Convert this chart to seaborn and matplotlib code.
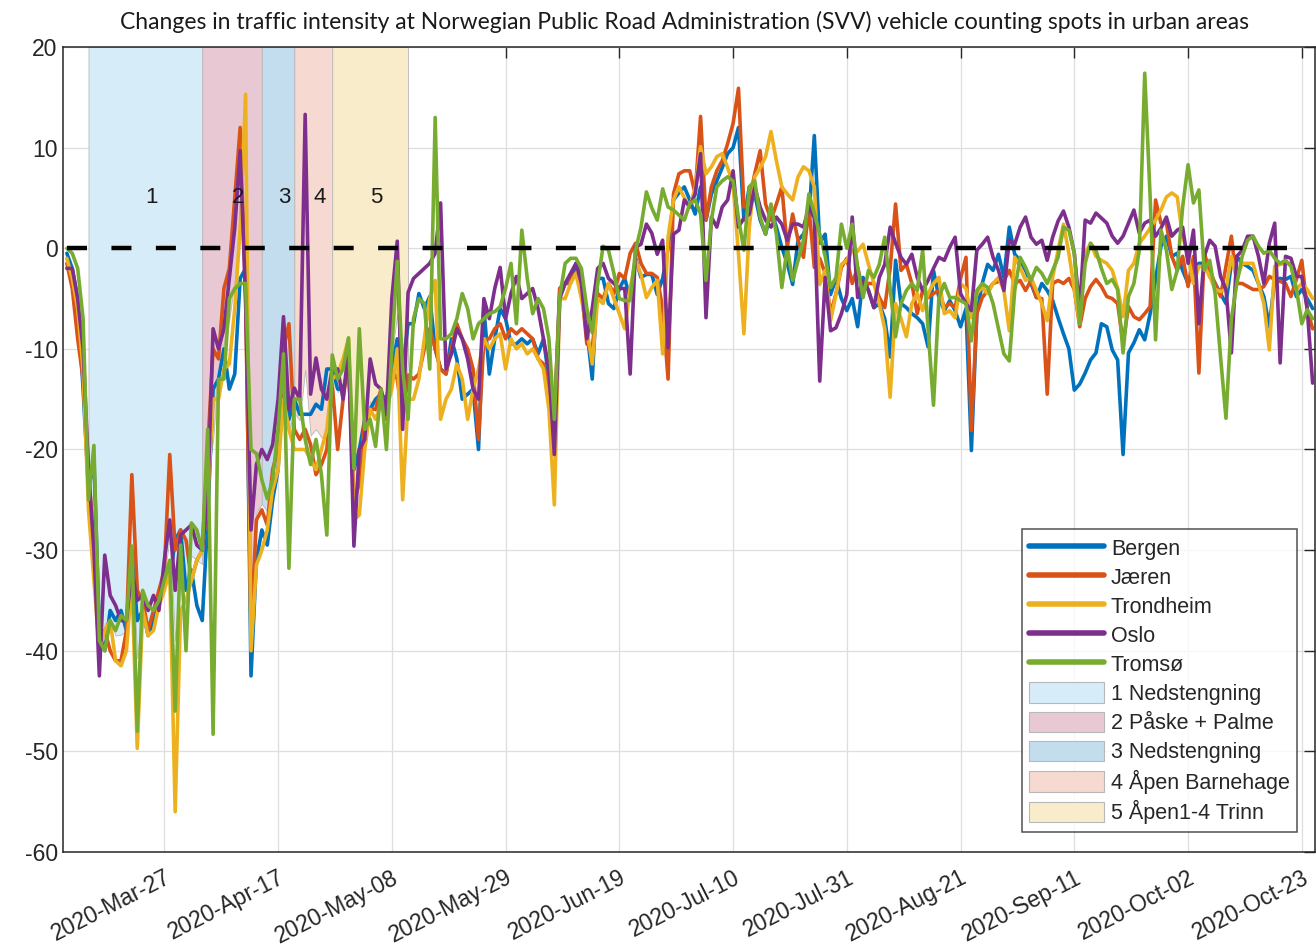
import pandas as pd
import matplotlib
matplotlib.use("Agg")
import matplotlib.pyplot as plt
from matplotlib.lines import Line2D
from matplotlib.patches import Patch
import seaborn as sns

# Daily change in traffic (%) from 2020-03-09
start_date = "2020-03-09"
cities = ["Bergen", "Jæren", "Trondheim", "Oslo", "Tromsø"]
city_colors = ["#0072BD", "#D95319", "#EDB120", "#7E2F8E", "#77AC30"]

bergen = [
    -0.5, -2, -5, -14, -24, -21, -38, -40, -36, -37,
    -36, -38, -30, -37, -36, -38.5, -37, -35, -33, -33,
    -29, -28, -34, -32, -35.5, -37, -27, -14, -13, -10,
    -14, -12.5, -3, -2, -42.5, -31, -28, -29.5, -25, -22,
    -12, -17, -15, -16.5, -16.5, -16.5, -15.5, -16, -12, -12,
    -14, -14, -12, -22, -20, -17, -16, -15, -14.5, -15,
    -12, -9, -12, -7.5, -7.5, -4.5, -6, -4.8, -10, -12,
    -12.5, -9, -11, -15, -14.5, -14, -20, -6, -12.5, -9,
    -6, -7, -9.5, -9.5, -9, -9.5, -9, -10.5, -9, -13,
    -18, -4, -3.5, -3.5, -1.5, -3, -8, -13, -3, -3,
    -5.5, -6, -4, -3, -5, -1, -2.9, -2.6, -2.6, -4.6,
    -3, 0, 4.8, 5.5, 6.1, 4.8, 3.4, 6.1, 2.8, 5.4,
    6.7, 8, 9.4, 10, 12, 2.8, 6.1, 5.4, 2.8, 1.4,
    3.8, 2.1, 0.1, -1.5, -3.6, 0.8, 1.4, 3, 11.2, 0.5,
    1.4, -4.6, -3, -5, -6.2, -5, -7.8, -2.9, -4.2, -5.9,
    -5.5, -7, -10.8, -1.2, -5.5, -5.9, -6.5, -6.9, -7.5, -9.8,
    -2.2, -4.9, -6.2, -5.2, -6.2, -7.8, -6, -20.1, -6.5, -3.5,
    -1.6, -2.2, -0.6, -2.9, 2.1, -0.6, -1.2, -2.2, -3.5, -4.9,
    -3.5, -4.2, -5.2, -6.9, -8.5, -10, -14.1, -13.5, -12.4, -11.1,
    -10.4, -7.5, -7.8, -10.1, -11.1, -20.5, -10.4, -9.4, -8.1, -9.1,
    -6.5, -3.1, 0.2, 1.2, -0.8, -0.5, -2.2, -3.5, -2.2, -1.5,
    -1.5, -2.8, -3.5, -4.5, -5.5, -1.5, -0.8, -1.5, -1.8, -2.2,
    -3.5, -4.8, -7.8, -3.1, -3, -3.1, -2.8, -4.8, -4.1, -5,
    -6,
]

jaeren = [
    -1.5, -4, -9, -13, -22, -30, -39, -38, -40, -41,
    -41, -38, -22.5, -34, -35, -38, -36, -34, -32, -20.5,
    -30, -28, -29, -33, -31, -30, -20, -10, -11, -4,
    -2, 5, 12, -5, -38, -27, -26, -27.5, -22, -20,
    -10, -7.5, -18, -19, -18, -19.5, -22.5, -21.5, -20, -13.5,
    -20, -15, -11, -25, -23.5, -17, -16, -16, -14, -17,
    -12, -13, -17, -12.6, -13, -12.5, -10, -8, -10, -12,
    -12.5, -10, -7.5, -9, -10, -12, -19, -9, -9, -8,
    -7.5, -9, -8, -8.5, -8, -8.5, -9, -11, -11.5, -14,
    -17, -4, -3.5, -3, -2.5, -4, -9.5, -10, -4.5, -5,
    -3.5, -4.5, -2.5, -3, -0.5, 0.5, -1.5, -2.5, -2.5, -2.9,
    -6, -13, 5.4, 7.4, 7.7, 7.7, 5.4, 13.1, 2.8, 6.1,
    7.7, 8.7, 10.4, 12.4, 15.9, 4.1, 4.8, 7.4, 9.7, 4.4,
    2.8, 4.4, 6.1, 0.1, 3.4, 0.8, -0.9, 4.1, -1.9, -1,
    -2.5, -6.5, -4.5, -1.9, -1, -3.5, -1.9, -4.2, -3.5, -3.5,
    -4.9, -5.9, -2, 4.4, -2.2, -1.6, -3.5, -6.5, -4.2, -4.9,
    -4.5, -4.2, -5.9, -5.5, -5.9, -3, -0.9, -18.1, -6.5, -4.9,
    -4.2, -3.5, -3.3, -3.2, -2.2, -3.5, -3.2, -4.2, -3.2, -4.9,
    -5, -14.5, -3.5, -3.2, -3.5, -3, -4.1, -7.8, -5, -3.8,
    -3.1, -3.8, -4.8, -5, -5.5, -9.4, -5.8, -6.8, -7.1, -6.5,
    -5.8, 4.8, 2.5, 2.5, -0.8, -2.2, -0.8, -3.8, -0.8, -12.4,
    -0.5, -2.2, -3.5, -4.8, -1.8, 1.2, -3.5, -3.5, -3.8, -4.1,
    -4.1, -3.8, -2.8, -3.1, -3.3, -3.5, -4.8, -3.1, -1.2, -6.1,
    -8,
]

trondheim = [
    -1, -3, -6, -12, -26, -33, -40, -38, -37, -41,
    -41.5, -40, -33, -49.7, -36, -38.5, -38, -35.5, -34, -32,
    -56, -36, -35, -33, -31, -30, -25, -15, -15, -12,
    -11.5, -6, 2, 15.3, -40, -31.5, -30, -28, -24, -22,
    -15, -18, -20, -20, -20, -21, -22, -20, -18, -13,
    -12.5, -11, -9, -27, -26.5, -20, -16, -17, -15.5, -16,
    -14, -10, -25, -15, -15, -13, -9, -5, -3.2, -17,
    -15, -14, -11.5, -13, -17, -14, -12, -9, -10, -9,
    -8.5, -12, -9, -10, -9.5, -10.5, -10, -11, -12, -16,
    -25.5, -5, -5, -3.5, -2.5, -5, -8, -11.5, -5, -5.5,
    -3.5, -5, -6.5, -8, -4, -1.2, -2.6, -4.9, -3.9, -3.2,
    -10.5, 1.1, 4.8, 6.1, 5, 4.1, 6, 10.1, 7.4, 8.1,
    9.1, 9.4, 8, 6.4, -0.6, -8.5, 2.1, 7.1, 8, 9.1,
    11.6, 8.7, 6.1, 5.4, 4.8, 7.1, 8.1, 7.7, 6.1, -3.6,
    -2.2, -7.2, -4.6, -1.6, -1.2, -0.2, -0.3, 0.4, -1.6, -3.5,
    -5.5, -8, -14.8, -5.5, -7, -8.8, -5.5, -4.5, -6.2, -4.5,
    -3.5, -2.9, -6.5, -6.2, -6.9, -3.5, -4, -6.9, -4.5, -3.9,
    -4.5, -3.5, -2.9, -4.2, -8.2, -0.9, -1.9, -3.2, -2.9, -4.2,
    -5.5, -7.2, -2.9, -0.2, 2.4, -0.5, -4.1, -7.5, -0.5, 0.5,
    -0.8, -1.2, -1.5, -2.2, -4, -6.8, -2.2, -1.5, 0.5, 1.2,
    2, 2.8, 3.8, 5.1, 5.5, 5.1, 1.2, -0.8, -3.5, -1.8,
    -1.8, -2.8, -4.1, -4.3, -4.1, -0.8, -3.1, -1.5, -1.5, -1.5,
    -3.5, -5.5, -10.1, -1.8, -1.6, -1.5, -1.5, -4.1, -3.5, -4.1,
    -5,
]

oslo = [
    -2, -2, -5, -10, -22, -30, -42.5, -30.5, -34.5, -35.5,
    -37, -37, -32, -35, -34.5, -36, -34.5, -36, -31, -27,
    -34, -28.5, -28, -27.5, -29.5, -30, -25, -8, -10, -8,
    -3, 2, 9.7, -5, -28, -21.5, -20, -21, -19.5, -15,
    -6.8, -16, -13.9, -15, 13.3, -14.5, -10.9, -14, -15, -12,
    -12, -15, -10, -29.6, -20, -19, -11, -13.5, -14, -16.5,
    -5, 0.7, -18, -4.4, -3, -2.5, -2, -1.5, -0.5, 4.5,
    -12, -10.5, -8, -9, -11, -14, -15, -5, -7, -4,
    -1.9, -7, -4.5, -2.8, -5, -4.5, -4, -6, -9, -12,
    -20.5, -5, -3.5, -2.5, -1.5, -3.5, -9, -6, -2, -1.5,
    -3, -3.5, -4, -4, -12.5, 0.1, 0.4, 2.4, 1.5, -0.6,
    0.8, -9.9, 1.4, 1.8, 4.8, 4.1, 5.4, 9.4, -6.9, 3.1,
    2.1, 4.1, 4.8, 7.7, 2.1, 3, 3.4, 6.1, 4.1, 2.8,
    2.1, 3.1, 2.4, 0.8, 2.4, 2.4, 2.1, 4.1, 3, -13.2,
    -2.9, -8.2, -7.9, -6.5, -4.6, 3.1, -4.9, -3.2, -4.2, -5.9,
    -2.9, -1.6, 2.1, 0.5, -0.9, -1.6, -0.6, -2.9, -4.2, -3.2,
    -2, -0.9, -1.2, 0.1, 1.1, -4.5, -5.5, -6.2, -0.2, 0.4,
    1.1, -0.9, -2.2, -4.2, 0.8, 0.4, 2.1, 3.1, 1.1, 0.4,
    0.8, -1.2, 1.1, 2.7, 3.7, 2.1, -0.5, -6.1, 2.8, 2.5,
    3.5, 3, 2.5, 1.2, 0.5, 1.2, 2.5, 3.8, 1.5, 2.5,
    2.8, 1.2, 2, 3.1, 1.2, 1.8, 2.1, -1.5, 1.8, -7.5,
    -0.8, 0.8, 0.2, -2.8, -4.1, -10.4, -0.8, -0.2, 1.2, 1.2,
    -0.8, -3.5, 0.5, 2.5, -11.4, -0.8, -1, -2.8, -2.8, -6,
    -13.4,
]

tromso = [
    0, -0.5, -2, -7, -25, -19.6, -39, -40, -37, -38,
    -36.5, -37, -29.6, -48, -34, -35.5, -36, -35, -33, -31,
    -46, -29.5, -40, -27.3, -28, -30, -18, -48.3, -13, -13,
    -5, -4, -3.5, -3.5, -20, -20.4, -23, -24.9, -23, -18,
    -10.5, -31.8, -15, -15, -19, -21.5, -19, -22.5, -28.5, -10.6,
    -13, -12, -8.9, -21.9, -8, -18, -17, -19.7, -14, -20,
    -10, -1.3, -12, -17, -7, -5, -5.5, -12, 13, -9,
    -9, -8.5, -7, -4.5, -6, -9, -7.5, -7, -6.5, -6.3,
    -5.8, -4, -1.5, -7.5, 1.8, -3, -6.5, -5, -6, -9,
    -17, -4.8, -1.5, -1, -1, -2, -6, -8.4, -3.5, 0.2,
    -0.2, -2.5, -5, -5.2, -5.2, -0.2, 2.1, 5.6, 4, 2.8,
    5.9, 4.1, 3.8, 3.3, 2.8, 4.4, 4.8, 3.4, -3.2, 2.8,
    6.1, 6.7, 7.1, 6.7, 3, -0.2, 6.1, 6.7, 3.1, 1.4,
    4.4, 1.4, -3.9, 0.1, -3.2, -1.2, 0.8, 5.4, 3.5, 1.4,
    -0.8, -3.9, -2.9, 2.4, 0, 2.4, -1.9, -4.9, -2.2, -2.9,
    -1.6, 1.1, -4, -8.8, -5.5, -4.2, -3.5, -4.2, -0.2, -8,
    -15.6, -4.9, -3.5, -4.9, -4.9, -5.2, -5.5, -9.2, -4.2, -3.5,
    -3.9, -5.5, -8, -10.5, -11.2, -4.2, -0.9, -1.9, -3.2, -1.9,
    -2.5, -3.5, -2.2, -0.9, 2.1, 1.8, -0.5, -7.5, -1.5, 0.5,
    -0.2, -2, -3.5, -3.1, -4.1, -10.4, -4.8, -3.5, -0.2, 17.4,
    5.1, -9.1, 1.8, -0.2, -4.1, -2.2, 4.1, 8.3, 4.5, 5.8,
    -2.2, -1.2, -4.5, -10.8, -16.9, -7, -3.5, -0.8, 0.8, 1.2,
    0.2, -0.5, -0.2, -1, -1.5, -1.2, -1.8, -4, -7.5, -6.1,
    -7,
]

# Restriction phases
phase_names = ["1 Nedstengning", "2 Påske + Palme", "3 Nedstengning",
               "4 Åpen Barnehage", "5 Åpen1-4 Trinn"]
phase_labels = ["1", "2", "3", "4", "5"]
phase_bounds = ["2020-03-13", "2020-04-03", "2020-04-14", "2020-04-20",
                "2020-04-27", "2020-05-11"]
phase_colors = ["#d6ecf8", "#e8c9d3", "#c3dcee", "#f6d9d1", "#f9ecca"]

tick_dates = pd.date_range("2020-03-27", "2020-10-23", freq="21D")
zero_line_end = "2020-10-23"

frames = []
for name, vals in zip(cities, [bergen, jaeren, trondheim, oslo, tromso]):
    frames.append(pd.DataFrame({
        "date": pd.date_range(start_date, periods=len(vals), freq="D"),
        "city": name,
        "change": vals,
    }))
df = pd.concat(frames, ignore_index=True)
mean_line = df.pivot_table(index="date", columns="city", values="change").mean(axis=1)

sns.set_style("white")
plt.rcParams["font.family"] = ["Liberation Sans", "DejaVu Sans"]
plt.rcParams["axes.unicode_minus"] = False

fig = plt.figure(figsize=(13.16, 9.5), dpi=100)
ax = fig.add_axes([0.0475, 0.1032, 0.9520, 0.8473])

# shaded phases
bounds = pd.to_datetime(phase_bounds)
for i, color in enumerate(phase_colors):
    seg = mean_line[(mean_line.index >= bounds[i]) & (mean_line.index <= bounds[i + 1])]
    ax.fill_between(seg.index, seg.values, 20, color=color, edgecolor="#b8b8b8",
                    linewidth=0.6, zorder=1)
    mid = bounds[i] + (bounds[i + 1] - bounds[i]) / 2
    ax.text(mid, 5, phase_labels[i], fontsize=16, ha="left", va="center",
            color="#1a1a1a", zorder=5)

sns.lineplot(data=df, x="date", y="change", hue="city", hue_order=cities,
             palette=dict(zip(cities, city_colors)), linewidth=2.6,
             legend=False, ax=ax, zorder=3)

ax.hlines(0, df["date"].min(), pd.Timestamp(zero_line_end), colors="black",
          linewidth=3.2, linestyles=(0, (4.5, 5.5)), zorder=4)

ax.set_xlim(pd.Timestamp(start_date) - pd.Timedelta(days=0.8),
            pd.Timestamp(start_date) + pd.Timedelta(days=230.5))
ax.set_ylim(-60, 20)
ax.set_yticks(range(-60, 21, 10))
ax.set_xticks(tick_dates)
ax.set_xticklabels([d.strftime("%Y-%b-%d") for d in tick_dates], rotation=27,
                   ha="right", va="top", rotation_mode="anchor")
ax.tick_params(axis="both", labelsize=16.5, direction="in", length=8, width=1,
               top=True, right=True, colors="#262626")
ax.tick_params(axis="x", pad=10)
ax.grid(True, color="#dedede", linewidth=0.9, zorder=0)
ax.set_axisbelow(True)
for sp in ax.spines.values():
    sp.set_color("#262626")
    sp.set_linewidth(1.1)
ax.set_xlabel("")
ax.set_ylabel("")

handles = [Line2D([0], [0], color=c, linewidth=4) for c in city_colors]
handles += [Patch(facecolor=c, edgecolor="#b8b8b8", linewidth=0.8) for c in phase_colors]
leg = ax.legend(handles, cities + phase_names, loc="lower right",
                bbox_to_anchor=(0.9856, 0.0248), borderaxespad=0, fontsize=15.5,
                frameon=True, fancybox=False, handlelength=3.5, handleheight=1.1,
                handletextpad=0.3, labelspacing=0.3, borderpad=0.35)
leg.get_frame().set_edgecolor("#262626")
leg.get_frame().set_linewidth(1.1)
leg.set_zorder(6)

fig.text(684 / 1316, 1 - 22 / 950,
         "Changes in traffic intensity at Norwegian Public Road Administration "
         "(SVV) vehicle counting spots in urban areas",
         ha="center", va="center", fontsize=16.5, family=["Lato", "DejaVu Sans"],
         color="#1a1a1a")

fig.savefig("out.png", dpi=100)
